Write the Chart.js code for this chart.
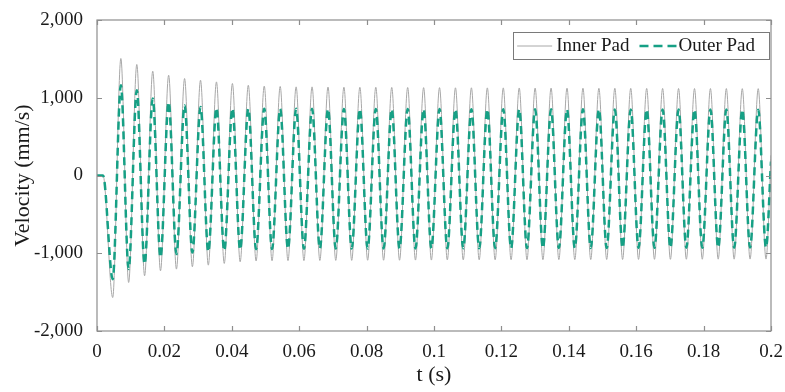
<!DOCTYPE html>
<html>
<head>
<meta charset="utf-8">
<script src="https://cdn.jsdelivr.net/npm/chart.js@4.4.1/dist/chart.umd.min.js"></script>
<style>
  html, body { margin: 0; padding: 0; background: #fff; }
  #wrap { width: 785px; height: 392px; }
</style>
</head>
<body>
<div id="wrap"><canvas id="chart" width="785" height="392"></canvas></div>
<script>
// ── Data (extrema of each cycle, t in seconds) ───────────────────────────────
const tSec = [
  0, 0.0018,
  0.00466, 0.00708, 0.00939, 0.01181, 0.01412, 0.01654, 0.01884, 0.02126,
  0.02357, 0.02599, 0.02830, 0.03072, 0.03303, 0.03545, 0.03776, 0.04018,
  0.04248, 0.04490, 0.04721, 0.04963, 0.05194, 0.05436, 0.05667, 0.05909,
  0.06140, 0.06382, 0.06613, 0.06855, 0.07085, 0.07327, 0.07558, 0.07800,
  0.08031, 0.08273, 0.08504, 0.08746, 0.08977, 0.09219, 0.09450, 0.09692,
  0.09922, 0.10164, 0.10395, 0.10637, 0.10868, 0.11110, 0.11341, 0.11583,
  0.11814, 0.12056, 0.12287, 0.12529, 0.12759, 0.13001, 0.13232, 0.13474,
  0.13705, 0.13947, 0.14178, 0.14420, 0.14651, 0.14893, 0.15124, 0.15366,
  0.15596, 0.15838, 0.16069, 0.16311, 0.16542, 0.16784, 0.17015, 0.17257,
  0.17488, 0.17730, 0.17961, 0.18203, 0.18433, 0.18675, 0.18906, 0.19148,
  0.19379, 0.19621, 0.19852,
  0.2
];

const innerPad = [
  0, 0,
  -1570, 1505, -1376, 1428, -1290, 1342, -1226, 1290,
  -1204, 1247, -1174, 1226, -1153, 1204, -1131, 1183,
  -1110, 1161, -1100, 1150, -1097, 1145, -1095, 1140,
  -1095, 1140, -1093, 1138, -1092, 1136, -1092, 1135,
  -1090, 1135, -1090, 1133, -1090, 1132, -1088, 1130,
  -1088, 1130, -1086, 1128, -1086, 1128, -1085, 1127,
  -1085, 1127, -1084, 1126, -1084, 1125, -1083, 1125,
  -1082, 1124, -1082, 1123, -1081, 1122, -1080, 1122,
  -1080, 1121, -1079, 1120, -1078, 1120, -1078, 1119,
  -1077, 1118, -1077, 1118, -1076, 1118, -1076, 1117,
  -1075, 1117, -1075,
  260
];

const outerPad = [
  0, 0,
  -1333, 1161, -1204, 1097, -1140, 990, -1054, 946,
  -1011, 903, -990, 882, -980, 870, -968, 865,
  -955, 860, -948, 860, -945, 858, -943, 858,
  -942, 857, -941, 857, -940, 856, -940, 856,
  -939, 855, -939, 855, -938, 855, -938, 854,
  -937, 854, -937, 854, -936, 853, -936, 853,
  -935, 853, -935, 852, -934, 852, -934, 852,
  -933, 851, -933, 851, -932, 851, -932, 850,
  -931, 850, -931, 850, -930, 849, -930, 849,
  -929, 849, -929, 848, -928, 848, -928, 848,
  -927, 847, -927,
  180
];

const xTicks = [0, 0.02, 0.04, 0.06, 0.08, 0.1, 0.12, 0.14, 0.16, 0.18, 0.2];
const xTickLabels = ["0", "0.02", "0.04", "0.06", "0.08", "0.1", "0.12", "0.14", "0.16", "0.18", "0.2"];
const yTicks = [-2000, -1000, 0, 1000, 2000];
const yTickLabels = ["-2,000", "-1,000", "0", "1,000", "2,000"];

const FONT = "'Liberation Serif', 'DejaVu Serif', serif";
const FRAME = "#8e8e8e";
const INNER_COLOR = "#a8a8a8";
const OUTER_COLOR = "#16a085";

// ── Frame with inward ticks on all four sides ────────────────────────────────
const framePlugin = {
  id: "frame",
  afterDraw(chart) {
    const { ctx, chartArea: a, scales } = chart;
    ctx.save();
    ctx.strokeStyle = FRAME;
    ctx.lineWidth = 1.2;
    ctx.strokeRect(a.left, a.top, a.right - a.left, a.bottom - a.top);
    const len = 5;
    ctx.beginPath();
    xTicks.forEach((v) => {
      const px = Math.round(scales.x.getPixelForValue(v)) + 0.5;
      ctx.moveTo(px, a.bottom); ctx.lineTo(px, a.bottom - len);
      ctx.moveTo(px, a.top); ctx.lineTo(px, a.top + len);
    });
    yTicks.forEach((v) => {
      const py = Math.round(scales.y.getPixelForValue(v)) + 0.5;
      ctx.moveTo(a.left, py); ctx.lineTo(a.left + len, py);
      ctx.moveTo(a.right, py); ctx.lineTo(a.right - len, py);
    });
    ctx.stroke();
    ctx.restore();
  },
};

// ── Boxed legend in the top-right corner of the plot ─────────────────────────
const boxLegend = {
  id: "boxLegend",
  afterDraw(chart) {
    const { ctx, chartArea: a } = chart;
    const ds = chart.data.datasets;
    ctx.save();
    ctx.font = `19px ${FONT}`;
    const lineLen = [35, 37];
    const gapAfterLine = [4, 2];
    const w0 = ctx.measureText(ds[0].label).width;
    const w1 = ctx.measureText(ds[1].label).width;
    const boxW = 4 + lineLen[0] + gapAfterLine[0] + w0 + 10 + lineLen[1] + gapAfterLine[1] + w1 + 14;
    const boxH = 27;
    const right = a.right - 2;
    const left = right - boxW;
    const top = a.top + 12;
    ctx.fillStyle = "#fff";
    ctx.fillRect(left, top, boxW, boxH);
    ctx.strokeStyle = "#7a7a7a";
    ctx.lineWidth = 1;
    ctx.strokeRect(Math.round(left) + 0.5, top + 0.5, Math.round(boxW), boxH);
    const cy = top + boxH / 2 + 0.5;
    let x = left + 4;
    // Inner Pad
    ctx.strokeStyle = ds[0].borderColor;
    ctx.lineWidth = ds[0].borderWidth;
    ctx.setLineDash([]);
    ctx.beginPath(); ctx.moveTo(x, cy); ctx.lineTo(x + lineLen[0], cy); ctx.stroke();
    x += lineLen[0] + gapAfterLine[0];
    ctx.fillStyle = "#1a1a1a";
    ctx.textBaseline = "middle";
    ctx.fillText(ds[0].label, x, cy);
    x += w0 + 10;
    // Outer Pad
    ctx.strokeStyle = ds[1].borderColor;
    ctx.lineWidth = ds[1].borderWidth;
    ctx.setLineDash([9, 5]);
    ctx.beginPath(); ctx.moveTo(x, cy); ctx.lineTo(x + lineLen[1], cy); ctx.stroke();
    ctx.setLineDash([]);
    x += lineLen[1] + gapAfterLine[1];
    ctx.fillText(ds[1].label, x, cy);
    ctx.restore();
  },
};

new Chart(document.getElementById("chart"), {
  type: "line",
  data: {
    datasets: [
      {
        label: "Inner Pad",
        data: tSec.map((t, i) => ({ x: t, y: innerPad[i] })),
        borderColor: INNER_COLOR,
        backgroundColor: INNER_COLOR,
        borderWidth: 1,
        pointRadius: 0,
        cubicInterpolationMode: "monotone",
        order: 2,
      },
      {
        label: "Outer Pad",
        data: tSec.map((t, i) => ({ x: t, y: outerPad[i] })),
        borderColor: OUTER_COLOR,
        backgroundColor: OUTER_COLOR,
        borderWidth: 2.5,
        borderDash: [8, 5],
        pointRadius: 0,
        cubicInterpolationMode: "monotone",
        order: 1,
      },
    ],
  },
  options: {
    responsive: false,
    animation: false,
    events: [],
    layout: { padding: { left: 0, right: 14, top: 20, bottom: 0 } },
    plugins: {
      tooltip: { enabled: false },
      legend: { display: false },
    },
    scales: {
      x: {
        type: "linear",
        min: 0,
        max: 0.2,
        afterBuildTicks: (s) => { s.ticks = xTicks.map((v) => ({ value: v })); },
        afterFit: (s) => { s.height = 61; },
        grid: { display: false },
        border: { display: false },
        ticks: {
          padding: 2,
          maxRotation: 0,
          color: "#1a1a1a",
          font: { family: FONT, size: 19 },
          callback: (v, i) => xTickLabels[i],
        },
        title: {
          display: true,
          text: "t (s)",
          color: "#1a1a1a",
          font: { family: FONT, size: 22 },
          padding: { top: 0, bottom: 4 },
        },
      },
      y: {
        min: -2000,
        max: 2000,
        afterBuildTicks: (s) => { s.ticks = yTicks.map((v) => ({ value: v })); },
        afterFit: (s) => { s.width = 97; },
        grid: { display: false },
        border: { display: false },
        ticks: {
          padding: 6,
          color: "#1a1a1a",
          font: { family: FONT, size: 19 },
          callback: (v, i) => yTickLabels[i],
        },
        title: {
          display: true,
          text: "Velocity (mm/s)",
          color: "#1a1a1a",
          font: { family: FONT, size: 22 },
          padding: { top: 10, bottom: 0 },
        },
      },
    },
  },
  plugins: [framePlugin, boxLegend],
});
</script>
</body>
</html>
